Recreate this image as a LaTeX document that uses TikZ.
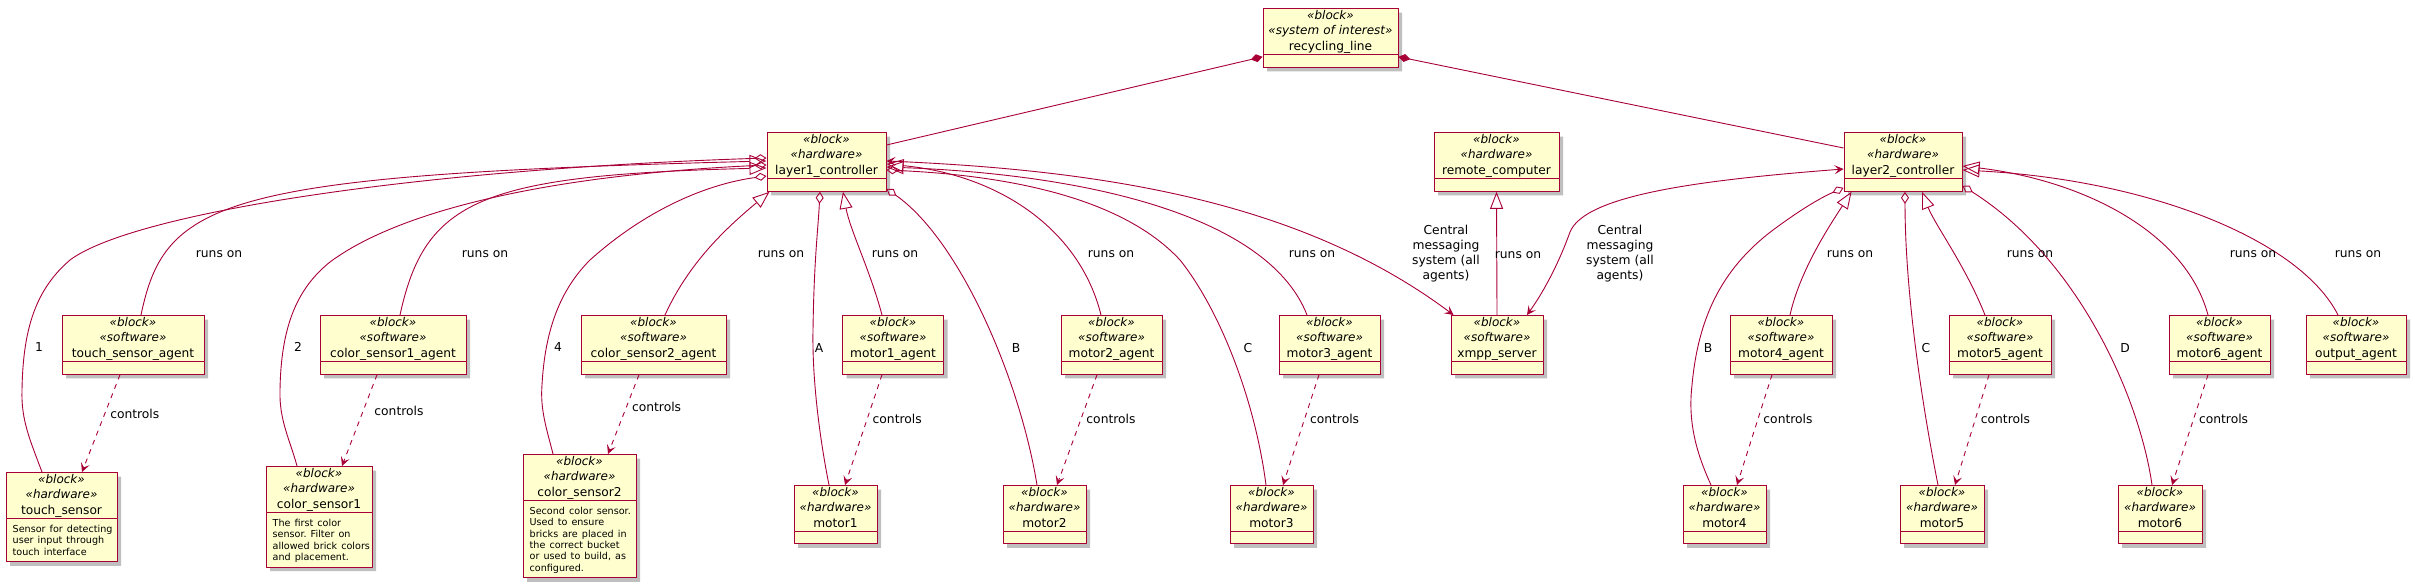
\documentclass[tikz,border=0pt]{standalone}
\usepackage{fontspec}
\setmainfont{DejaVu Sans}
\usetikzlibrary{arrows.meta,shapes.multipart,shadows}
\definecolor{umlred}{HTML}{A80036}
\definecolor{umlfill}{HTML}{FEFECE}
\newcommand\stereo[1]{{\fontsize{12}{15.5}\selectfont\itshape «#1»}}
\newcommand\hdr[2]{\centering\rule{0pt}{8.5pt}\stereo{block}\\\stereo{#1}\\#2\rule[-2.5pt]{0pt}{2.5pt}\par}
\newcommand\blank{\nodepart{two}\rule[-4pt]{0pt}{9pt}\par}
\newcommand\desc{\nodepart{two}\raggedright\frenchspacing\leftskip=2.7pt\fontsize{9.6}{11.3}\selectfont\rule{0pt}{12pt}}
\newcommand\descend{\rule[-5pt]{0pt}{5pt}\par}
\begin{document}
\begin{tikzpicture}[x=1pt,y=-1pt,
  blk/.style={rectangle split, rectangle split parts=2, anchor=north, draw=umlred, line width=1pt, fill=umlfill, text width=#1, inner xsep=4pt, inner ysep=1.2pt, font=\fontsize{12.2}{15.5}\selectfont, drop shadow={shadow xshift=4pt, shadow yshift=-4pt, fill=black, opacity=0.25}},
  lbl/.style={inner sep=0pt, font=\fontsize{12.3}{15}\selectfont, align=center},
  link/.style={draw=umlred, line width=0.9pt},
  ext/.style={link, -{Triangle[open, length=17pt, width=13pt]}},
  agg/.style={link, -{Diamond[open, length=12pt, width=8pt]}},
  comp/.style={link, {Diamond[length=12pt, width=8pt]}-},
  msg/.style={link, {Stealth[length=9pt, width=9pt, inset=4pt]}-{Stealth[length=9pt, width=9pt, inset=4pt]}},
  ctl/.style={link, dash pattern=on 5pt off 5pt, -{Stealth[length=9pt, width=9pt, inset=4pt]}}]
\useasboundingbox (0,0) rectangle (2415,587);
\node[blk=127pt] (rl) at (1330.5,8) {\hdr{system of interest}{recycling\_line}\blank};
\node[blk=111pt] (l1) at (826.5,132) {\hdr{hardware}{layer1\_controller}\blank};
\node[blk=117pt] (rc) at (1496.5,132) {\hdr{hardware}{remote\_computer}\blank};
\node[blk=110pt] (l2) at (1903,132) {\hdr{hardware}{layer2\_controller}\blank};
\node[blk=134pt] (tsa) at (133,315) {\hdr{software}{touch\_sensor\_agent}\blank};
\node[blk=138pt] (cs1a) at (393,315) {\hdr{software}{color\_sensor1\_agent}\blank};
\node[blk=137pt] (cs2a) at (653.5,315) {\hdr{software}{color\_sensor2\_agent}\blank};
\node[blk=93pt] (m1a) at (893,315) {\hdr{software}{motor1\_agent}\blank};
\node[blk=93pt] (m2a) at (1111.5,315) {\hdr{software}{motor2\_agent}\blank};
\node[blk=93pt] (m3a) at (1329.5,315) {\hdr{software}{motor3\_agent}\blank};
\node[blk=84pt] (xmpp) at (1497,315) {\hdr{software}{xmpp\_server}\blank};
\node[blk=94pt] (m4a) at (1781,315) {\hdr{software}{motor4\_agent}\blank};
\node[blk=94pt] (m5a) at (2000,315) {\hdr{software}{motor5\_agent}\blank};
\node[blk=93pt] (m6a) at (2219.5,315) {\hdr{software}{motor6\_agent}\blank};
\node[blk=92pt] (outa) at (2356,315) {\hdr{software}{output\_agent}\blank};
\node[blk=103pt] (ts) at (61.5,472) {\hdr{hardware}{touch\_sensor}\desc\mbox{Sensor for detecting}\\\mbox{user input through}\\\mbox{touch interface}\descend};
\node[blk=98pt] (cs1) at (319,466) {\hdr{hardware}{color\_sensor1}\desc\mbox{The first color}\\\mbox{sensor. Filter on}\\\mbox{allowed brick colors}\\\mbox{and placement.}\descend};
\node[blk=105pt] (cs2) at (579.5,454) {\hdr{hardware}{color\_sensor2}\desc\mbox{Second color sensor.}\\\mbox{Used to ensure}\\\mbox{bricks are placed in}\\\mbox{the correct bucket}\\\mbox{or used to build, as}\\\mbox{configured.}\descend};
\node[blk=75pt] (m1) at (835.5,485) {\hdr{hardware}{motor1}\blank};
\node[blk=75pt] (m2) at (1044.5,485) {\hdr{hardware}{motor2}\blank};
\node[blk=75pt] (m3) at (1271.5,485) {\hdr{hardware}{motor3}\blank};
\node[blk=75pt] (m4) at (1724.5,485) {\hdr{hardware}{motor4}\blank};
\node[blk=76pt] (m5) at (1942,485) {\hdr{hardware}{motor5}\blank};
\node[blk=76pt] (m6) at (2160,485) {\hdr{hardware}{motor6}\blank};
\draw[comp] ([yshift=11pt]rl.south west) -- ([yshift=-13pt]l1.north east);
\draw[comp] ([yshift=11pt]rl.south east) -- ([yshift=-16pt]l2.north west);
\draw[agg] ([xshift=-19.5pt]ts.north) .. controls (30,440) and (21,420) .. (22,390) .. controls (23,330) and (35,290) .. (70,260) .. controls (130,215) and (400,170) .. ([yshift=-26pt]l1.north west);
\draw[ext] ([xshift=8pt]tsa.north) .. controls (165,200) and (220,175) .. ([yshift=-29pt]l1.north west);
\draw[agg] ([xshift=-22pt]cs1.north) .. controls (290,440) and (279,420) .. (280,390) .. controls (281,330) and (295,290) .. (330,262) .. controls (400,210) and (550,175) .. ([yshift=-33pt]l1.north west);
\draw[ext] ([xshift=7pt]cs1a.north) .. controls (425,200) and (480,175) .. ([yshift=-36pt]l1.north west);
\draw[agg] ([xshift=-26.5pt]cs2.north) .. controls (547,430) and (540,410) .. (542,385) .. controls (545,330) and (560,290) .. (590,260) .. controls (640,215) and (700,185) .. ([yshift=-44pt]l1.north west);
\draw[ext] ([xshift=11.5pt]cs2a.north) .. controls (690,260) and (730,225) .. ([xshift=3pt]l1.south west);
\draw[agg] ([xshift=-6.5pt]m1.north) .. controls (820,440) and (812,380) .. (813,330) .. controls (814,260) and (818,230) .. ([xshift=-6.5pt]l1.south);
\draw[ext] ([xshift=-11pt]m1a.north) .. controls (870,270) and (850,230) .. ([xshift=16.5pt]l1.south);
\draw[agg] ([xshift=-7.5pt]m2.north) .. controls (1020,380) and (960,240) .. ([yshift=3pt]l1.south east);
\draw[ext] ([xshift=-10.5pt]m2a.north) .. controls (1080,230) and (1000,175) .. ([yshift=-32pt]l1.north east);
\draw[agg] ([xshift=-5.5pt]m3.north) .. controls (1255,400) and (1220,310) .. (1180,260) .. controls (1120,195) and (1000,175) .. ([yshift=-38pt]l1.north east);
\draw[ext] ([xshift=-22.5pt]m3a.north) .. controls (1270,220) and (1100,175) .. ([yshift=-35pt]l1.north east);
\draw[msg] ([yshift=-29pt]l1.north east) .. controls (1100,170) and (1300,200) .. ([xshift=3pt]xmpp.north west);
\draw[msg] ([xshift=30pt]xmpp.north) .. controls (1545,290) and (1560,260) .. (1570,232) .. controls (1585,195) and (1700,180) .. ([yshift=-37pt]l2.north west);
\draw[ext] (xmpp.north) -- (rc.south);
\draw[agg] ([xshift=-13.5pt]m4.north) .. controls (1695,450) and (1688,420) .. (1692,385) .. controls (1698,320) and (1720,270) .. (1773,230) .. controls (1800,210) and (1820,198) .. ([yshift=4pt]l2.south west);
\draw[ext] ([xshift=9pt]m4a.north) .. controls (1800,270) and (1830,225) .. ([xshift=8pt]l2.south west);
\draw[agg] ([xshift=-4pt]m5.north) .. controls (1925,420) and (1905,300) .. ([xshift=2pt]l2.south);
\draw[ext] ([xshift=-15pt]m5a.north) .. controls (1965,265) and (1935,225) .. ([xshift=19pt]l2.south);
\draw[agg] ([xshift=-8pt]m6.north) .. controls (2140,400) and (2080,260) .. ([yshift=6pt]l2.south east);
\draw[ext] ([xshift=-11.5pt]m6a.north) .. controls (2185,230) and (2080,180) .. ([yshift=-34pt]l2.north east);
\draw[ext] ([xshift=-18pt]outa.north) .. controls (2300,240) and (2150,180) .. ([yshift=-38pt]l2.north east);
\draw[ctl] ([xshift=-13pt]tsa.south) -- node[lbl, right=5pt, pos=0.4] (c1) {controls} ([xshift=20.5pt]ts.north);
\draw[ctl] ([xshift=-16pt]cs1a.south) -- node[lbl, right=11pt, pos=0.4] (c2) {controls} ([xshift=23pt]cs1.north);
\draw[ctl] ([xshift=-14.5pt]cs2a.south) -- node[lbl, right=5pt, pos=0.4] (c3) {controls} ([xshift=28.5pt]cs2.north);
\draw[ctl] ([xshift=-11pt]m1a.south) -- node[lbl, right=5pt, pos=0.4] (c4) {controls} ([xshift=9.5pt]m1.north);
\draw[ctl] ([xshift=-14.5pt]m2a.south) -- node[lbl, right=5pt, pos=0.4] (c5) {controls} ([xshift=12.5pt]m2.north);
\draw[ctl] ([xshift=-10.5pt]m3a.south) -- node[lbl, right=5pt, pos=0.4] (c6) {controls} ([xshift=11.5pt]m3.north);
\draw[ctl] ([xshift=-9pt]m4a.south) -- node[lbl, right=5pt, pos=0.4] (c7) {controls} ([xshift=12.5pt]m4.north);
\draw[ctl] ([xshift=-11pt]m5a.south) -- node[lbl, right=5pt, pos=0.4] (c8) {controls} ([xshift=13pt]m5.north);
\draw[ctl] ([xshift=-11.5pt]m6a.south) -- node[lbl, right=5pt, pos=0.4] (c9) {controls} ([xshift=12pt]m6.north);
\node[lbl] (r1) at (219,254) {runs on};
\node[lbl] (r2) at (485,254) {runs on};
\node[lbl] (r3) at (781,254) {runs on};
\node[lbl] (r4) at (895,254) {runs on};
\node[lbl] (r5) at (1111,254) {runs on};
\node[lbl] (r6) at (1312,254) {runs on};
\node[lbl] (r7) at (1518,255) {runs on};
\node[lbl] (r8) at (1850,254) {runs on};
\node[lbl] (r9) at (2030,254) {runs on};
\node[lbl] (r10) at (2253,254) {runs on};
\node[lbl] (r11) at (2358,254) {runs on};
\node[lbl] (cm1) at (1446,254) {Central\\messaging\\system (all\\agents)};
\node[lbl] (cm2) at (1620,254) {Central\\messaging\\system (all\\agents)};
\node[lbl] (n1) at (39,347) {1};
\node[lbl] (n2) at (298,347) {2};
\node[lbl] (n4) at (558,347) {4};
\node[lbl] (na) at (819,348) {A};
\node[lbl] (nb) at (1016,348) {B};
\node[lbl] (nc) at (1248,348) {C};
\node[lbl] (nb2) at (1708,348) {B};
\node[lbl] (nc2) at (1926,348) {C};
\node[lbl] (nd) at (2125,348) {D};
\end{tikzpicture}
\end{document}
